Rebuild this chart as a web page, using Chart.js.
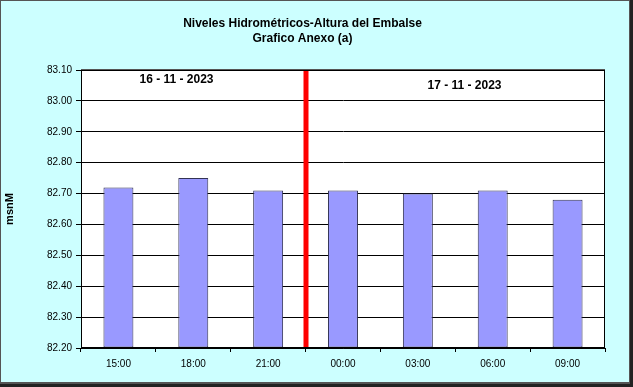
<!DOCTYPE html>
<html>
<head>
<meta charset="utf-8">
<script src="https://cdn.jsdelivr.net/npm/chart.js@4"></script>
<style>
html,body{margin:0;padding:0;background:#fff;}
#wrap{position:absolute;left:0;top:0;width:633px;height:387px;}
</style>
</head>
<body>
<div id="wrap"><canvas id="c" width="633" height="387"></canvas></div>
<script>
const categories = ["15:00", "18:00", "21:00", "00:00", "03:00", "06:00", "09:00"];
const levels = [82.72, 82.75, 82.71, 82.71, 82.70, 82.71, 82.68];
const dayLabels = ["16 - 11 - 2023", "17 - 11 - 2023"];
const dayBreakAfter = 2; // index of last category of the first day
const titleLines = ["Niveles Hidrométricos-Altura del Embalse", "Grafico Anexo (a)"];
const yTitle = "msnM";
const yMin = 82.2, yMax = 83.1, yStep = 0.1;

const FONT = "'Liberation Sans', Arial, sans-serif";

const framePlugin = {
  id: 'frame',
  beforeDraw(chart) {
    const ctx = chart.ctx;
    const W = chart.width, H = chart.height;
    ctx.save();
    ctx.fillStyle = '#222222';
    ctx.fillRect(0, 0, W, H);
    ctx.fillStyle = '#555555';
    ctx.fillRect(0, 0, W - 3, H - 3);
    ctx.fillStyle = '#CCFFFF';
    ctx.fillRect(1, 1, W - 5, H - 6);
    const a = chart.chartArea;
    ctx.fillStyle = '#FFFFFF';
    ctx.fillRect(a.left, a.top, a.right - a.left, a.bottom - a.top);
    ctx.restore();
  },
  afterDatasetsDraw(chart) {
    const ctx = chart.ctx;
    const a = chart.chartArea;
    const xs = chart.scales.x;
    ctx.save();
    // day separator
    const xb = (xs.getPixelForValue(dayBreakAfter) + xs.getPixelForValue(dayBreakAfter + 1)) / 2;
    ctx.fillStyle = '#FF0000';
    ctx.fillRect(Math.round(xb) - 2.5, a.top, 5, a.bottom - a.top);
    // plot border
    ctx.strokeStyle = '#000000';
    ctx.lineWidth = 1;
    ctx.strokeRect(Math.round(a.left) + 0.5, Math.round(a.top) + 0.5, Math.round(a.right - a.left) - 1, Math.round(a.bottom - a.top) - 1);
    ctx.beginPath();
    ctx.moveTo(a.left, Math.round(a.top) - 0.5);
    ctx.lineTo(a.right, Math.round(a.top) - 0.5);
    ctx.strokeStyle = '#555555';
    ctx.stroke();
    // day labels
    ctx.fillStyle = '#000000';
    ctx.font = "bold 12px " + FONT;
    ctx.textAlign = 'center';
    ctx.textBaseline = 'middle';
    ctx.fillText(dayLabels[0], a.left + 95.5, a.top + 10);
    ctx.fillText(dayLabels[1], a.left + 383.5, a.top + 16);
    ctx.restore();
  }
};

new Chart(document.getElementById('c'), {
  type: 'bar',
  data: {
    labels: categories,
    datasets: [{
      data: levels,
      backgroundColor: '#9999FF',
      borderColor: '#333355',
      borderWidth: 1,
      borderSkipped: false,
      barPercentage: 0.4,
      categoryPercentage: 1.0,
      base: yMin
    }]
  },
  options: {
    responsive: false,
    animation: false,
    devicePixelRatio: 1,
    layout: { padding: { left: 0, right: 28, top: 0, bottom: 0 } },
    plugins: {
      legend: { display: false },
      tooltip: { enabled: false },
      title: {
        display: true,
        text: titleLines,
        color: '#000000',
        font: { family: FONT, size: 12, weight: 'bold', lineHeight: 1.25 },
        padding: { top: 16, bottom: 24 }
      }
    },
    scales: {
      x: {
        offset: true,
        grid: { offset: true, drawOnChartArea: false, drawTicks: true, tickLength: 4, color: '#000000' },
        border: { display: true, color: '#000000' },
        ticks: { color: '#000000', font: { family: FONT, size: 10 }, padding: 6, maxRotation: 0, autoSkip: false },
        afterFit(s) { s.height = 39; }
      },
      y: {
        min: yMin, max: yMax,
        grid: { color: '#000000', tickLength: 5, drawTicks: true },
        border: { display: true, color: '#000000' },
        ticks: {
          stepSize: yStep,
          color: '#000000',
          font: { family: FONT, size: 10 },
          padding: 4,
          callback: v => Number(v).toFixed(2)
        },
        title: {
          display: true,
          text: yTitle,
          color: '#000000',
          font: { family: FONT, size: 11, weight: 'bold' },
          padding: { top: 3, bottom: 0 }
        },
        afterFit(s) { s.width = 81; }
      }
    }
  },
  plugins: [framePlugin]
});
</script>
</body>
</html>
